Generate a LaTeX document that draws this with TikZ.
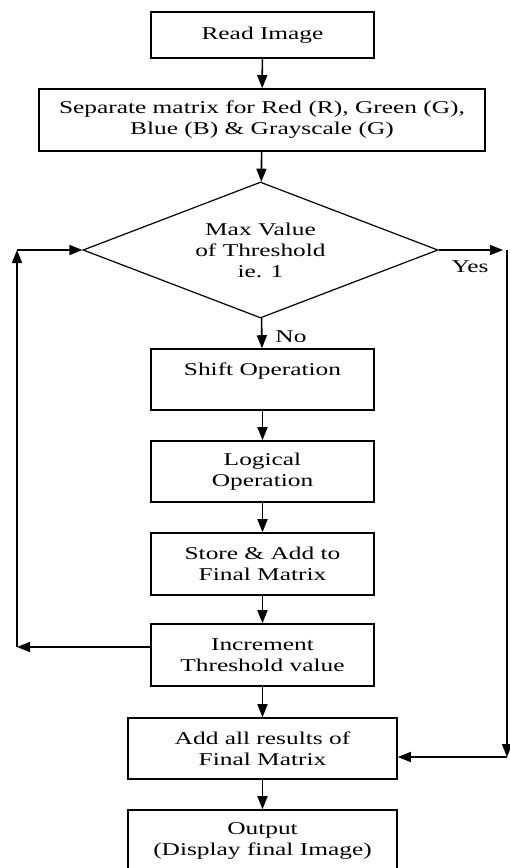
\documentclass[tikz,border=0pt]{standalone}
\usepackage{fontspec}
\setmainfont{Liberation Serif}[FakeStretch=1.41]
\usetikzlibrary{arrows.meta,shapes.geometric}

\begin{document}
\begin{tikzpicture}[
  x=1pt, y=-1pt,
  >={Triangle[length=13pt, width=10pt]},
  font=\fontsize{18}{21}\selectfont,
  box/.style={rectangle, draw, line width=1.6pt, fill=white, align=center, inner sep=0pt, minimum width=223pt, minimum height=61pt},
  widebox/.style={box, minimum width=269pt},
  decision/.style={diamond, draw, line width=1.2pt, align=center, inner sep=0pt, aspect=2.6, minimum width=355pt, minimum height=136pt},
  tag/.style={rectangle, draw=none, fill=none, inner sep=0pt},
  every edge/.style={draw, ->, line width=1.6pt}
]
  \useasboundingbox (0,0) rectangle (510,868);

  \node[box, minimum height=46pt] (read) at (262.5, 35) {Read Image};
  \node[box, minimum width=446pt, minimum height=62pt] (sep) at (262, 120) {Separate matrix for Red (R), Green (G),\\ Blue (B) \& Grayscale (G)};
  \node[decision] (dec) at (260.5, 250) {Max Value\\ of Threshold\\ ie. 1};
  \node[box] (shift) at (262.5, 379.5) {Shift Operation\\ ~};
  \node[box] (logic) at (262.5, 471.5) {Logical\\ Operation};
  \node[box, minimum height=62pt] (store) at (262.5, 564) {Store \& Add to\\ Final Matrix};
  \node[box, minimum height=62pt] (incr) at (262.5, 655) {Increment\\ Threshold value};
  \node[widebox] (addall) at (262.5, 748.5) {Add all results of\\ Final Matrix};
  \node[widebox, minimum height=62pt] (output) at (262.5, 841) {Output\\ (Display final Image)};

  % Branch labels
  \node[tag] (no) at (291, 337) {No};
  \node[tag] (yes) at (470, 267) {Yes};

  % Corner points of the loops
  \coordinate (ltop) at (17, 250);
  \coordinate (lbot) at (17, 647);
  \coordinate (rtop) at (507, 250);
  \coordinate (rbot) at (507, 757);

  % Main flow
  \path (read) edge (sep);
  \path (sep) edge (dec);
  \path (dec) edge (shift);
  \path (shift) edge (logic);
  \path (logic) edge (store);
  \path (store) edge (incr);
  \path (incr) edge (addall);
  \path (addall) edge (output);

  % Loop back to the decision
  \path (incr.west |- lbot) edge (lbot);
  \path (lbot) edge (ltop);
  \path (ltop) edge (dec.west);

  % Yes branch
  \path (dec.east) edge[shorten >=4pt] (rtop);
  \path (rtop) edge (rbot);
  \path (rbot) edge (addall.east |- rbot);
\end{tikzpicture}
\end{document}
